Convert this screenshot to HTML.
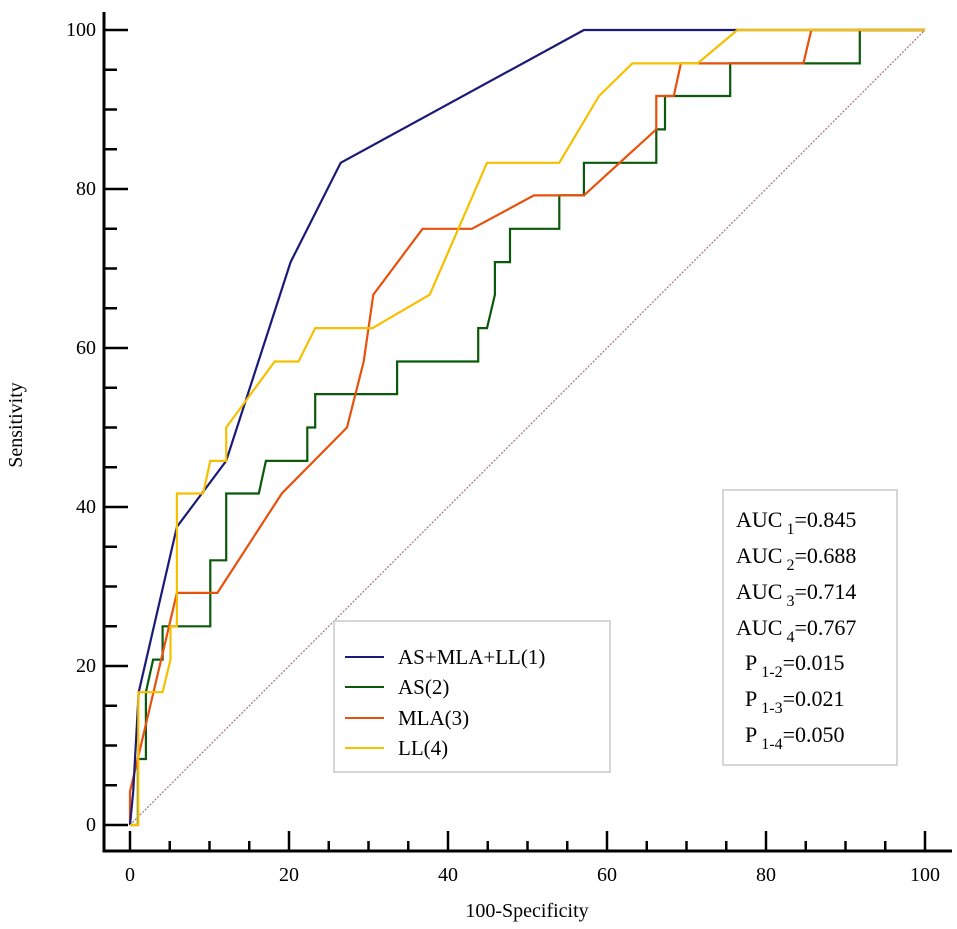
<!DOCTYPE html>
<html><head><meta charset="utf-8">
<style>
html,body{margin:0;padding:0;background:#fff;}
svg{display:block;font-family:"Liberation Serif",serif;}
</style></head>
<body>
<svg id="chart" width="957" height="929" viewBox="0 0 957 929" xmlns="http://www.w3.org/2000/svg">
<g id="axes"></g>
<g id="series"></g>
<g>
  <rect x="334" y="621" width="276" height="151" fill="#fff" stroke="#c8c8c8" stroke-width="1.5"/>
  <line x1="345" y1="657" x2="384" y2="657" stroke="#1a1a78" stroke-width="2"/>
  <text x="398" y="664" font-size="21">AS+MLA+LL(1)</text>
  <line x1="345" y1="687" x2="384" y2="687" stroke="#0b5a0b" stroke-width="2"/>
  <text x="398" y="694" font-size="21">AS(2)</text>
  <line x1="345" y1="718" x2="384" y2="718" stroke="#e8500c" stroke-width="2"/>
  <text x="398" y="725" font-size="21">MLA(3)</text>
  <line x1="345" y1="748" x2="384" y2="748" stroke="#f5c000" stroke-width="2"/>
  <text x="398" y="755" font-size="21">LL(4)</text>
</g>
<g font-size="22">
  <rect x="723" y="490" width="174" height="275" fill="#fff" stroke="#c8c8c8" stroke-width="1.5"/>
  <text x="736" y="527">AUC<tspan dx="4" dy="7" font-size="16">1</tspan><tspan dy="-7">=0.845</tspan></text>
  <text x="736" y="563">AUC<tspan dx="4" dy="7" font-size="16">2</tspan><tspan dy="-7">=0.688</tspan></text>
  <text x="736" y="599">AUC<tspan dx="4" dy="7" font-size="16">3</tspan><tspan dy="-7">=0.714</tspan></text>
  <text x="736" y="635">AUC<tspan dx="4" dy="7" font-size="16">4</tspan><tspan dy="-7">=0.767</tspan></text>
  <text x="745" y="670">P<tspan dx="4" dy="7" font-size="16">1-2</tspan><tspan dy="-7">=0.015</tspan></text>
  <text x="745" y="706">P<tspan dx="4" dy="7" font-size="16">1-3</tspan><tspan dy="-7">=0.021</tspan></text>
  <text x="745" y="742">P<tspan dx="4" dy="7" font-size="16">1-4</tspan><tspan dy="-7">=0.050</tspan></text>
</g>
<text x="527" y="917" font-size="20" text-anchor="middle">100-Specificity</text>
<text x="0" y="0" font-size="20" text-anchor="middle" transform="translate(22,425) rotate(-90)">Sensitivity</text>
</svg>
<script>
const xTicks = [0, 20, 40, 60, 80, 100];
const yTicks = [0, 20, 40, 60, 80, 100];
const s1x = [0, 0.4, 1.1, 5.9, 12.1, 20.2, 26.5, 57.1, 100];
const s1y = [0, 4.2, 16.7, 37.5, 45.8, 70.8, 83.3, 100, 100];
const s2x = [0, 1.0, 1.0, 2.0, 2.0, 2.9, 4.1, 4.1, 10.1, 10.1, 12.1, 12.1, 16.2, 17.1, 22.3, 22.3, 23.3, 23.3, 33.6, 33.6, 43.8, 43.8, 44.9, 45.9, 45.9, 47.8, 47.8, 54, 54, 57.1, 57.1, 66.2, 66.2, 67.3, 67.3, 75.5, 75.5, 91.8, 91.8, 100];
const s2y = [0, 0, 8.3, 8.3, 16.7, 20.8, 20.8, 25, 25, 33.3, 33.3, 41.7, 41.7, 45.8, 45.8, 50, 50, 54.2, 54.2, 58.3, 58.3, 62.5, 62.5, 66.7, 70.8, 70.8, 75, 75, 79.2, 79.2, 83.3, 83.3, 87.5, 87.5, 91.7, 91.7, 95.8, 95.8, 100, 100];
const s3x = [0, 0, 5.9, 11.0, 19.1, 27.3, 29.4, 30.6, 36.8, 43, 50.8, 57.1, 66.2, 66.2, 68.4, 69.3, 84.7, 85.7, 100];
const s3y = [0, 4.2, 29.2, 29.2, 41.7, 50, 58.3, 66.7, 75, 75, 79.2, 79.2, 87.5, 91.7, 91.7, 95.8, 95.8, 100, 100];
const s4x = [0, 1.05, 1.05, 4.1, 5.1, 5.1, 5.9, 5.9, 9.2, 10.1, 12.1, 12.1, 18.2, 21.2, 23.3, 30.5, 37.7, 44.9, 54, 59, 63.2, 71.4, 76.4, 100];
const s4y = [0, 0, 16.7, 16.7, 20.8, 25, 25, 41.7, 41.7, 45.8, 45.8, 50, 58.3, 58.3, 62.5, 62.5, 66.7, 83.3, 83.3, 91.7, 95.8, 95.8, 100, 100];

const NS = "http://www.w3.org/2000/svg";
const X = v => 130 + v * 7.95;
const Y = v => 825 - v * 7.95;
function mk(tag, attrs, parent) {
  const e = document.createElementNS(NS, tag);
  for (const k in attrs) e.setAttribute(k, attrs[k]);
  parent.appendChild(e);
  return e;
}
const axes = document.getElementById('axes');
const series = document.getElementById('series');

let l = mk('line', {x1: 104, y1: 12, x2: 104, y2: 852, stroke: '#000', 'stroke-width': 3}, axes);


l = mk('line', {x1: 102.5, y1: 851, x2: 952, y2: 851, stroke: '#000', 'stroke-width': 3}, axes);



for (let v = 0; v <= 100; v += 5) {
  const major = v % 20 === 0;
  let t = mk('line', {x1: X(v), y1: 851, x2: X(v), y2: major ? 831 : 841, stroke: '#000', 'stroke-width': 2.5}, axes);
  
  
  t = mk('line', {x1: 104, y1: Y(v), x2: major ? 128 : 117, y2: Y(v), stroke: '#000', 'stroke-width': 2.5}, axes);
  
  
}
xTicks.forEach(v => {
  const t = mk('text', {x: X(v), y: 881, 'font-size': 20, 'text-anchor': 'middle'}, axes);
  t.textContent = String(v);
  
  
});
yTicks.forEach(v => {
  const t = mk('text', {x: 96, y: Y(v) + 6, 'font-size': 20, 'text-anchor': 'end'}, axes);
  t.textContent = String(v);
  
  
});

const d = mk('line', {x1: X(0), y1: Y(0), x2: X(100), y2: Y(100), stroke: '#9a7a7a', 'stroke-width': 1.2, 'stroke-dasharray': '2,1.5'}, series);



function draw(xs, ys, color, name) {
  const pts = xs.map((x, i) => X(x).toFixed(1) + ',' + Y(ys[i]).toFixed(1)).join(' ');
  const p = mk('polyline', {points: pts, fill: 'none', stroke: color, 'stroke-width': 2.2, 'stroke-linejoin': 'miter'}, series);
  
  
}
draw(s2x, s2y, '#0b5a0b', 'roc-as');
draw(s3x, s3y, '#e8500c', 'roc-mla');
draw(s1x, s1y, '#1a1a78', 'roc-combined');
draw(s4x, s4y, '#f5c000', 'roc-ll');
</script>
</body></html>
